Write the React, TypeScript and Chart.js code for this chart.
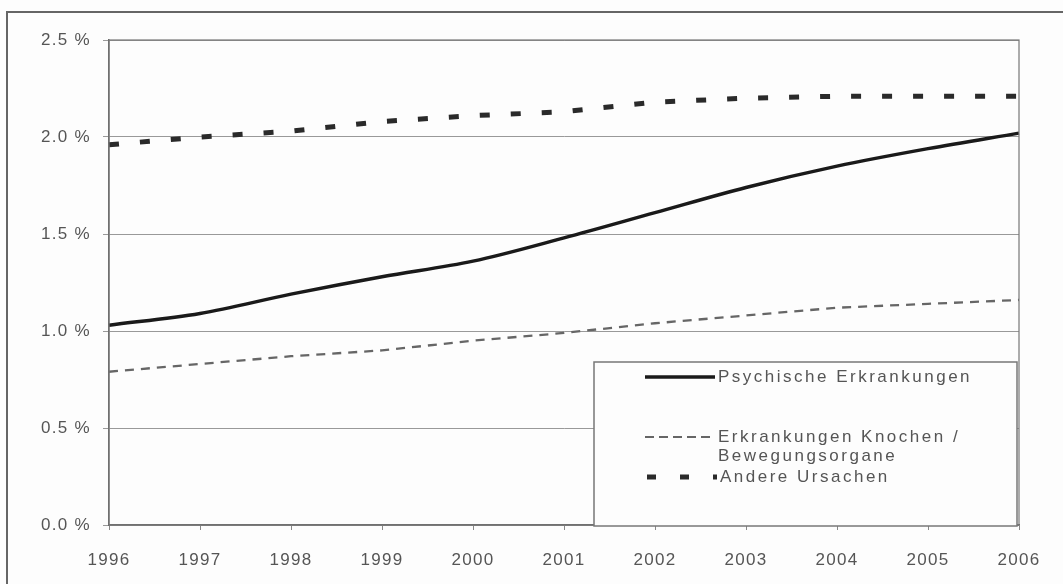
import { useEffect, useRef } from 'react';
import { Chart, registerables } from 'chart.js';

Chart.register(...registerables);

const years = ['1996', '1997', '1998', '1999', '2000', '2001', '2002', '2003', '2004', '2005', '2006'];
const psychische = [1.03, 1.09, 1.19, 1.28, 1.36, 1.48, 1.61, 1.74, 1.85, 1.94, 2.02];
const knochen = [0.79, 0.83, 0.87, 0.9, 0.95, 0.99, 1.04, 1.08, 1.12, 1.14, 1.16];
const andere = [1.96, 2.0, 2.03, 2.08, 2.11, 2.13, 2.18, 2.2, 2.21, 2.21, 2.21];
const legendLabels = ['Psychische Erkrankungen', 'Erkrankungen Knochen /', 'Bewegungsorgane', 'Andere Ursachen'];

const FONT = "'Liberation Sans', Arial, sans-serif";
const TEXT = '#555';

const framePlugin = {
  id: 'frame',
  beforeDraw(chart: any) {
    const ctx = chart.ctx;
    ctx.save();
    ctx.fillStyle = '#fdfdfd';
    ctx.fillRect(0, 0, chart.width, chart.height);
    ctx.restore();
    (ctx as any).letterSpacing = '1.3px';
  },
  afterDraw(chart: any) {
    const ctx = chart.ctx;
    const a = chart.chartArea;
    ctx.save();
    (ctx as any).letterSpacing = '0px';
    // outer frame (top and left)
    ctx.strokeStyle = '#666';
    ctx.lineWidth = 2;
    ctx.beginPath();
    ctx.moveTo(7, chart.height);
    ctx.lineTo(7, 12);
    ctx.lineTo(chart.width, 12);
    ctx.stroke();
    // plot border
    ctx.strokeStyle = '#777';
    ctx.lineWidth = 1.2;
    ctx.strokeRect(a.left, a.top, a.right - a.left, a.bottom - a.top);

    // legend box
    const lx = 594, ly = 362, lw = 423, lh = 164;
    ctx.fillStyle = '#fdfdfd';
    ctx.fillRect(lx, ly, lw, lh);
    ctx.strokeStyle = '#777';
    ctx.lineWidth = 1.5;
    ctx.strokeRect(lx, ly, lw, lh);

    const x0 = 645, x1 = 715, tx = 718;
    ctx.lineCap = 'butt';
    // row 1
    ctx.strokeStyle = '#1a1a1a';
    ctx.lineWidth = 3.5;
    ctx.setLineDash([]);
    ctx.beginPath();
    ctx.moveTo(x0, 377);
    ctx.lineTo(x1, 377);
    ctx.stroke();
    // row 2
    ctx.strokeStyle = '#666';
    ctx.lineWidth = 2;
    ctx.setLineDash([9, 5]);
    ctx.beginPath();
    ctx.moveTo(x0, 437);
    ctx.lineTo(x1, 437);
    ctx.stroke();
    // row 3
    ctx.strokeStyle = '#2a2a2a';
    ctx.lineWidth = 5;
    ctx.setLineDash([9, 24]);
    ctx.beginPath();
    ctx.moveTo(x0 + 2, 477);
    ctx.lineTo(x1 + 2, 477);
    ctx.stroke();
    ctx.setLineDash([]);

    (ctx as any).letterSpacing = '2.5px';
    ctx.fillStyle = TEXT;
    ctx.font = `17px ${FONT}`;
    ctx.textAlign = 'left';
    ctx.textBaseline = 'middle';
    ctx.fillText(legendLabels[0], tx, 377);
    ctx.fillText(legendLabels[1], tx, 437);
    ctx.fillText(legendLabels[2], tx, 456);
    ctx.fillText(legendLabels[3], tx + 2, 477);
    ctx.restore();
  },
};

export default function App() {
  const ref = useRef<HTMLCanvasElement | null>(null);
  useEffect(() => {
    document.body.style.margin = '0';
    const canvas = ref.current;
    if (!canvas) return;
    const chart = new Chart(canvas, {
      type: 'line',
      data: {
        labels: years,
        datasets: [
          {
            label: 'Psychische Erkrankungen',
            data: psychische,
            borderColor: '#1a1a1a',
            borderWidth: 3.5,
            pointRadius: 0,
            cubicInterpolationMode: 'monotone',
          },
          {
            label: 'Erkrankungen Knochen / Bewegungsorgane',
            data: knochen,
            borderColor: '#666',
            borderWidth: 2.3,
            borderDash: [9, 7],
            pointRadius: 0,
          },
          {
            label: 'Andere Ursachen',
            data: andere,
            borderColor: '#2a2a2a',
            borderWidth: 5,
            borderDash: [10, 21],
            borderCapStyle: 'butt',
            pointRadius: 0,
          },
        ],
      },
      options: {
        animation: false,
        responsive: false,
        layout: { padding: { top: 40, right: 44, left: 0, bottom: 0 } },
        plugins: { legend: { display: false }, tooltip: { enabled: false } },
        scales: {
          x: {
            type: 'category',
            offset: false,
            grid: { display: true, drawOnChartArea: false, drawTicks: true, tickLength: 5, color: '#888' },
            border: { display: true, color: '#666', width: 1.5 },
            ticks: { font: { family: FONT, size: 17 }, color: TEXT, padding: 20, maxRotation: 0, autoSkip: false },
            afterFit: (s: any) => { s.height = 59; },
          },
          y: {
            min: 0,
            max: 2.5,
            grid: { color: '#999', lineWidth: 1, drawTicks: true, tickLength: 6 },
            border: { display: true, color: '#666', width: 1.5 },
            ticks: {
              stepSize: 0.5,
              font: { family: FONT, size: 17 },
              color: TEXT,
              padding: 12,
              callback: (v: any) => Number(v).toFixed(1) + ' %',
            },
            afterFit: (s: any) => { s.width = 109; },
          },
        },
      },
      plugins: [framePlugin],
    } as any);
    return () => chart.destroy();
  }, []);
  return <canvas ref={ref} width={1063} height={584} style={{ display: 'block' }} />;
}
